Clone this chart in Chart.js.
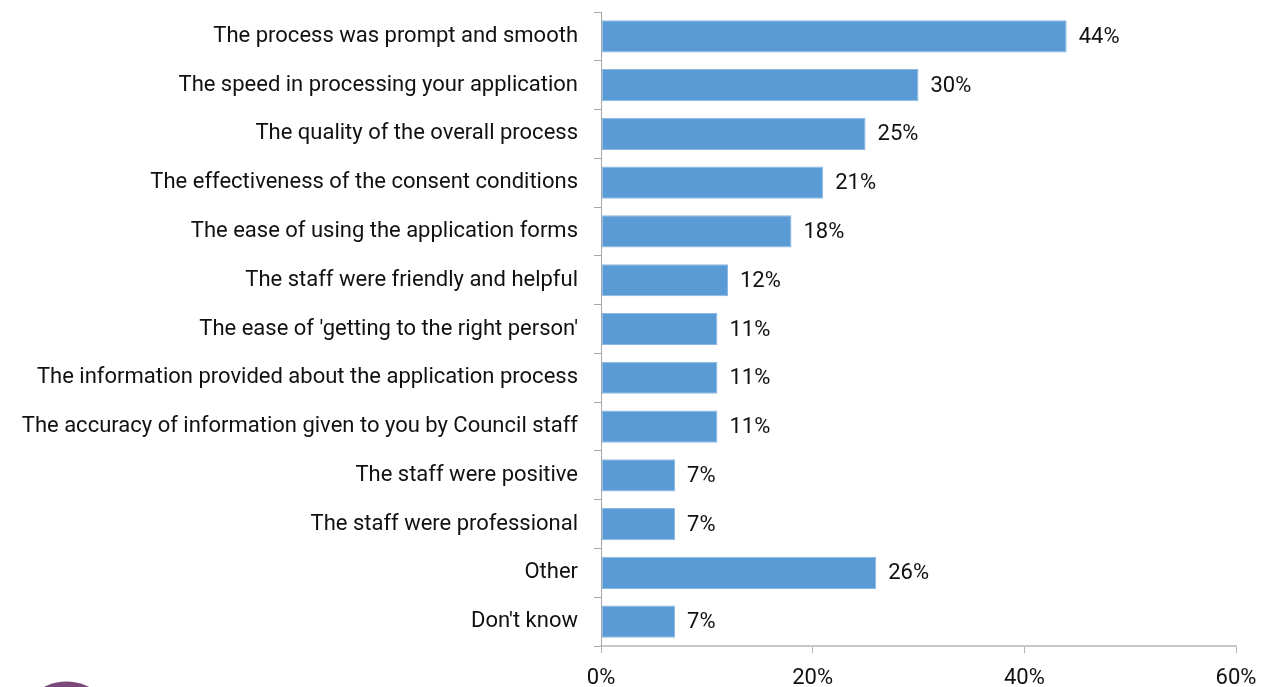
<!DOCTYPE html>
<html>
<head>
<meta charset="utf-8">
<script src="https://cdn.jsdelivr.net/npm/chart.js@4"></script>
<style>
  html, body { margin: 0; padding: 0; background: #fff; }
  #wrap { width: 1264px; height: 687px; position: relative; }
</style>
</head>
<body>
<div id="wrap"><canvas id="chart"></canvas></div>
<script>
const categories = [
  'The process was prompt and smooth',
  'The speed in processing your application',
  'The quality of the overall process',
  'The effectiveness of the consent conditions',
  'The ease of using the application forms',
  'The staff were friendly and helpful',
  "The ease of 'getting to the right person'",
  'The information provided about the application process',
  'The accuracy of information given to you by Council staff',
  'The staff were positive',
  'The staff were professional',
  'Other',
  "Don't know"
]
const values = [44, 30, 25, 21, 18, 12, 11, 11, 11, 7, 7, 26, 7]
const xTicks = [0, 20, 40, 60]

const FONT = { family: 'Roboto, "Noto Sans", sans-serif', size: 22 }
const TEXT = '#111'

// percent value next to the end of each bar
const valueLabels = {
  id: 'valueLabels',
  afterDatasetsDraw (chart) {
    const { ctx } = chart
    const meta = chart.getDatasetMeta(0)
    ctx.save()
    ctx.font = `${FONT.size}px ${FONT.family}`
    ctx.fillStyle = TEXT
    ctx.textBaseline = 'middle'
    ctx.textAlign = 'left'
    meta.data.forEach((bar, i) => {
      ctx.fillText(values[i] + '%', bar.x + 12, bar.y + 1)
    })
    ctx.restore()
  }
}

// purple logo disc peeking in at the bottom left
const cornerDisc = {
  id: 'cornerDisc',
  afterDraw (chart) {
    const { ctx } = chart
    ctx.save()
    ctx.fillStyle = '#7a487a'
    ctx.beginPath()
    ctx.arc(66.5, 730.5, 49, 0, Math.PI * 2)
    ctx.fill()
    ctx.restore()
  }
}

const ctx = document.querySelector('#chart').getContext('2d')
const myChart = new Chart(ctx, {
  type: 'bar',
  data: {
    labels: categories,
    datasets: [{
      data: values,
      backgroundColor: '#5b9bd5',
      borderColor: '#8cb9e3',
      borderWidth: 1,
      borderSkipped: false,
      categoryPercentage: 1,
      barPercentage: 0.66
    }]
  },
  options: {
    indexAxis: 'y',
    responsive: true,
    maintainAspectRatio: false,
    animation: false,
    layout: { padding: { top: 12, right: 28, bottom: 0, left: 0 } },
    plugins: {
      legend: { display: false },
      tooltip: { enabled: false }
    },
    scales: {
      x: {
        min: xTicks[0],
        max: xTicks[xTicks.length - 1],
        afterBuildTicks (scale) {
          scale.ticks = xTicks.map(value => ({ value }))
        },
        ticks: {
          callback: v => v + '%',
          font: FONT,
          color: TEXT,
          padding: 12,
          maxRotation: 0
        },
        grid: { drawOnChartArea: false, tickLength: 7, color: '#b4b4b4' },
        border: { color: '#c8c8c8', width: 2 },
        afterFit (scale) {
          scale.height = 41
          scale.paddingLeft = 0
          scale.paddingRight = 0
        }
      },
      y: {
        ticks: { font: FONT, color: TEXT, padding: 16, autoSkip: false },
        grid: { drawOnChartArea: false, tickLength: 7, color: '#a6a6a6' },
        border: { color: '#a6a6a6', width: 1 },
        afterFit (scale) {
          scale.width = 601
          scale.paddingTop = 0
          scale.paddingBottom = 0
        }
      }
    }
  },
  plugins: [valueLabels, cornerDisc]
})
</script>
</body>
</html>
